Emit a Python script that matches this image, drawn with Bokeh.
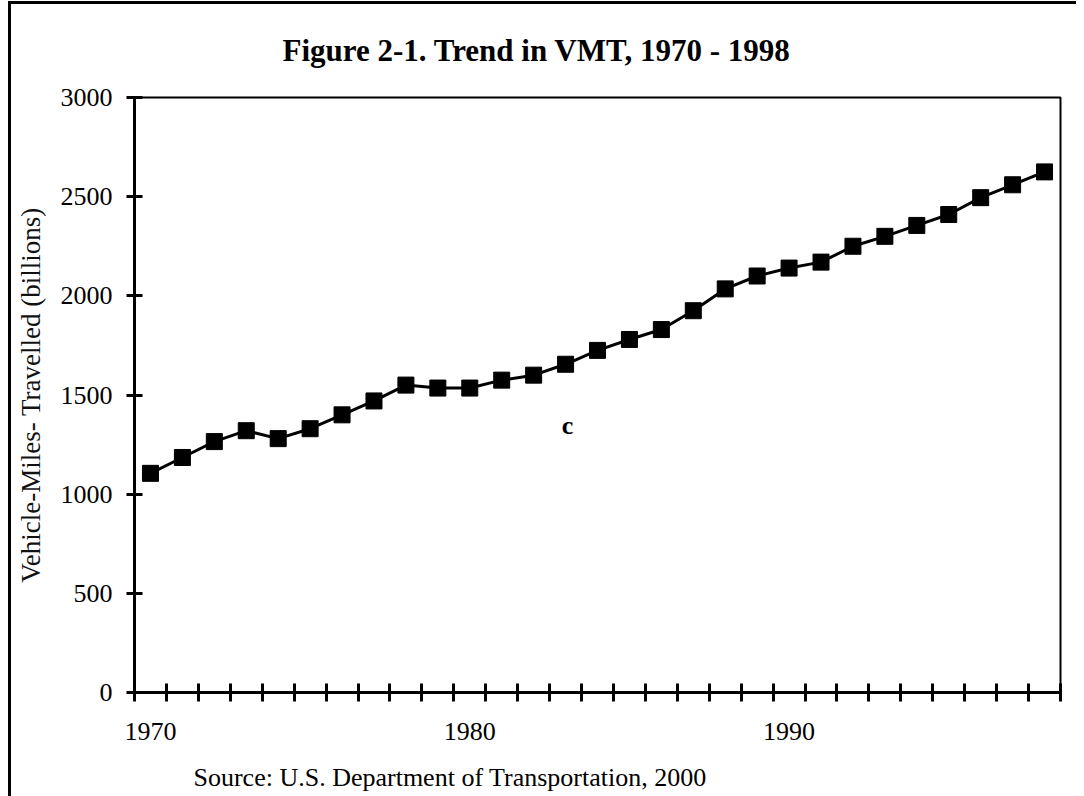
from bokeh.plotting import figure
from bokeh.models import Range1d, FixedTicker, Label, Title
from bokeh.embed import file_html
from bokeh.resources import INLINE

# ---- data ----
years = list(range(1970, 1999))
vmt = [1105, 1185, 1265, 1320, 1280, 1330, 1400, 1470, 1550, 1535,
       1535, 1575, 1600, 1655, 1725, 1780, 1830, 1925, 2035, 2100,
       2140, 2170, 2250, 2300, 2355, 2410, 2495, 2560, 2625]
y_ticks = [0, 500, 1000, 1500, 2000, 2500, 3000]
x_label_years = [1970, 1980, 1990]

title_text = "Figure 2-1.  Trend in VMT, 1970 - 1998"
y_title = "Vehicle-Miles- Travelled (billions)"
source_text = "Source:  U.S. Department of Transportation, 2000"
note_text = "c"

SERIF = "Liberation Serif"

p = figure(frame_width=926, frame_height=595,
           x_range=Range1d(years[0] - 0.5, years[-1] + 0.5),
           y_range=Range1d(y_ticks[0], y_ticks[-1]),
           output_backend="svg", toolbar_location=None,
           min_border_left=123, min_border_top=93,
           min_border_right=16, min_border_bottom=96)
p.styles = {"border-left": "3px solid black", "border-top": "3px solid black",
            "margin-left": "8px", "margin-top": "1px"}
p.grid.visible = False
p.outline_line_color = "black"
p.outline_line_width = 2
p.background_fill_color = "white"
p.border_fill_color = "white"

p.line(years, vmt, line_color="black", line_width=3)
p.scatter(years, vmt, marker="square", size=16,
          fill_color="black", line_color="black")

# x axis: labels at category centres, ticks at category boundaries
xa = p.xaxis[0]
xa.ticker = FixedTicker(ticks=x_label_years,
                        minor_ticks=[y - 0.5 for y in years] + [years[-1] + 0.5])
xa.major_tick_in = 0
xa.major_tick_out = 0
xa.minor_tick_in = 9
xa.minor_tick_out = 9
xa.minor_tick_line_width = 3
xa.minor_tick_line_color = "black"
xa.axis_line_width = 3
xa.axis_line_color = "black"
xa.major_label_text_font = SERIF
xa.major_label_text_font_size = "26px"
xa.major_label_text_color = "black"
xa.major_label_standoff = 21

ya = p.yaxis[0]
ya.ticker = FixedTicker(ticks=y_ticks)
ya.major_tick_in = 8
ya.major_tick_out = 8
ya.major_tick_line_width = 3
ya.major_tick_line_color = "black"
ya.minor_tick_line_color = None
ya.axis_line_width = 3
ya.axis_line_color = "black"
ya.major_label_text_font = SERIF
ya.major_label_text_font_size = "26px"
ya.major_label_text_color = "black"
ya.major_label_standoff = 14
ya.axis_label = y_title
ya.axis_label_text_font = SERIF
ya.axis_label_text_font_size = "27px"
ya.axis_label_text_font_style = "normal"
ya.axis_label_text_color = "#111111"
ya.axis_label_standoff = 12

p.title.text = title_text
p.title.text_font = SERIF
p.title.text_font_size = "31px"
p.title.text_font_style = "bold"
p.title.text_color = "black"
p.title.text_line_height = 1.0
p.title.align = "left"
p.title.vertical_align = "top"
p.title.offset = 148
p.title.standoff = 55

p.add_layout(Title(text=source_text, text_font=SERIF, text_font_size="26px",
                   text_font_style="normal", text_color="black",
                   text_line_height=1.0, vertical_align="top",
                   align="left", offset=59, standoff=41), "below")

p.add_layout(Label(x=1983.06, y=1346, text=note_text, text_font=SERIF,
                   text_font_size="26px", text_font_style="bold",
                   text_color="black", text_align="center",
                   text_baseline="middle"))

open("out.html", "w").write(file_html(p, INLINE))
